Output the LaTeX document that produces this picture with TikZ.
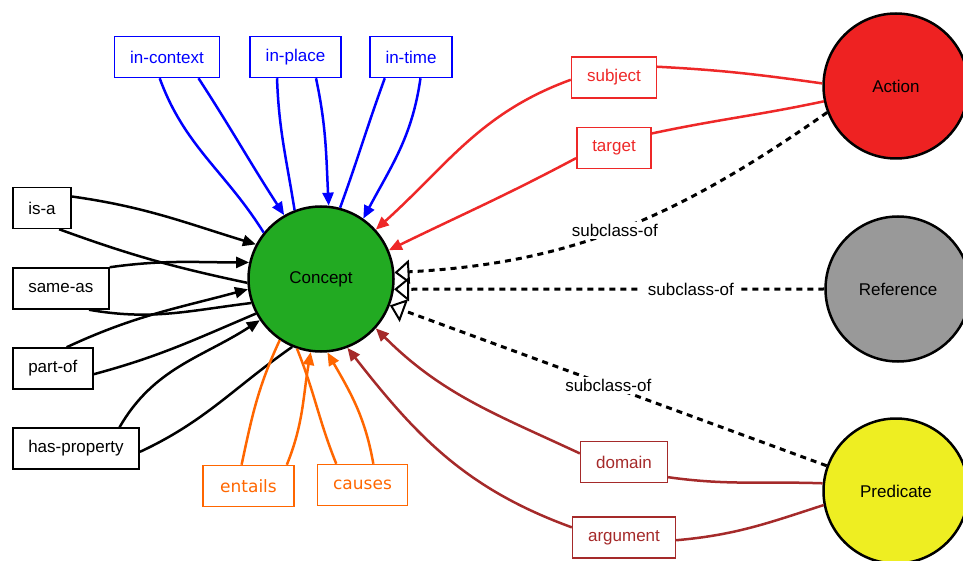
\documentclass[tikz,border=0pt]{standalone}
\usepackage{fontspec}
\setmainfont{Liberation Sans}
\newfontfamily\dejavu{DejaVu Sans}
\usepackage{tikz}
\usetikzlibrary{arrows.meta, positioning}
\definecolor{conceptgreen}{RGB}{34,170,34}
\definecolor{actionred}{RGB}{238,34,34}
\definecolor{refgray}{RGB}{153,153,153}
\definecolor{predyellow}{RGB}{238,238,34}
\definecolor{relblue}{RGB}{0,0,255}
\definecolor{relred}{RGB}{238,40,40}
\definecolor{relbrown}{RGB}{165,42,42}
\definecolor{relorange}{RGB}{255,102,0}
\tikzstyle{cls} = [circle, draw=black, line width=2.5pt, minimum size=145pt, inner sep=0pt, text=black]
\tikzstyle{rel} = [rectangle, draw, line width=1.5pt, minimum height=41pt, inner xsep=15.5pt, inner ysep=0pt]
\tikzstyle{link} = [line width=2.5pt]
\tikzstyle{relarrow} = [line width=2.5pt, -{Triangle[length=13pt,width=11pt]}]
\tikzstyle{subclass} = [line width=3pt, dash pattern=on 6pt off 5pt, -{Triangle[open,length=15pt,width=24pt,line width=2pt]}]
\tikzstyle{subtag} = [fill=white, inner xsep=7pt, inner ysep=2pt, text=black]

\begin{document}
\begin{tikzpicture}[x=1pt, y=1pt, font=\fontsize{17}{20}\selectfont]
    \useasboundingbox (0,0) rectangle (963,560);
    \node[cls, fill=conceptgreen] (concept) at (321,281) {Concept};
    \node[cls, fill=actionred] (action) at (896,474) {Action};
    \node[cls, fill=refgray] (reference) at (898,271) {Reference};
    \node[cls, fill=predyellow] (predicate) at (896,69) {Predicate};

    \foreach \name/\txt/\y in {isa/is-a/352, sameas/same-as/271.5, partof/part-of/191.5, hasprop/has-property/111.5}
      \node[rel, anchor=west] (\name) at (12,\y) {\txt};
    \foreach \name/\txt/\x in {incontext/in-context/167, inplace/in-place/295.5, intime/in-time/411}
      \node[rel, relblue] (\name) at (\x,503) {\txt};
    \node[rel, relred] (subject) at (614,482.5) {subject};
    \node[rel, relred] (target) at (614,412) {target};
    \node[rel, relbrown] (domain) at (624,98) {domain};
    \node[rel, relbrown] (argument) at (624,22.5) {argument};
    \node[rel, relorange, minimum width=91pt, font=\dejavu\fontsize{17}{20}\selectfont] (entails) at (248.5,74) {entails};
    \node[rel, relorange, minimum width=81pt, font=\dejavu\fontsize{17}{20}\selectfont] (causes) at (362.5,75) {causes};

    \foreach \src/\sa/\ea/\o/\i in {isa/21/152/-8/163, sameas/north east/167/8/180, partof/57/188/25/195, hasprop/26/214/60/213}
      \draw[relarrow] (\src.\sa) to[out=\o, in=\i] (concept.\ea);
    \foreach \src/\sa/\ea/\o/\i in {isa/-51/183/-20/168, sameas/-37/199/-10/187, partof/-8/208/15/203, hasprop/-3/247/25/215}
      \draw[link] (\src.\sa) to[out=\o, in=\i] (concept.\ea);

    \foreach \src/\sa/\ea/\o/\i in {incontext/-34/120/-57/123, inplace/-46/84/-78/93, intime/-66/55/-98/62}
      \draw[relarrow, relblue] (\src.\sa) to[out=\o, in=\i] (concept.\ea);
    \foreach \src/\sa/\ea/\o/\i in {incontext/-109/141/-70/122, inplace/-131/111/-88/99, intime/-141/75/-110/70}
      \draw[link, relblue] (\src.\sa) to[out=\o, in=\i] (concept.\ea);

    \draw[relarrow, relred] (subject.183) to[out=200, in=42] (concept.42);
    \draw[relarrow, relred] (target.195) to[out=208, in=26] (concept.23);
    \draw[link, relred] (subject.14) to[out=-3, in=172] (action.178);
    \draw[link, relred] (target.21) to[out=12, in=192] (action.192);

    \draw[relarrow, relbrown] (domain.169) to[out=155, in=-45] (concept.-42);
    \draw[relarrow, relbrown] (argument.169) to[out=160, in=-52] (concept.-69);
    \draw[link, relbrown] (domain.-19) to[out=-8, in=178] (predicate.174);
    \draw[link, relbrown] (argument.-3) to[out=5, in=198] (predicate.191);

    \draw[relarrow, relorange] (entails.29) to[out=68, in=-100] (concept.262);
    \draw[relarrow, relorange] (causes.63) to[out=100, in=-60] (concept.275);
    \draw[link, relorange] (entails.108) to[out=78, in=-115] (concept.236);
    \draw[link, relorange] (causes.141) to[out=112, in=-68] (concept.251);

    \draw[subclass] (action.201) to[out=215, in=3] node[subtag, pos=0.52] {subclass-of} (concept.5);
    \draw[subclass] (reference.west) -- node[subtag, pos=0.31] {subclass-of} (concept.-8);
    \draw[subclass] (predicate.160) -- node[subtag, pos=0.5] {subclass-of} (concept.-21);
\end{tikzpicture}
\end{document}
